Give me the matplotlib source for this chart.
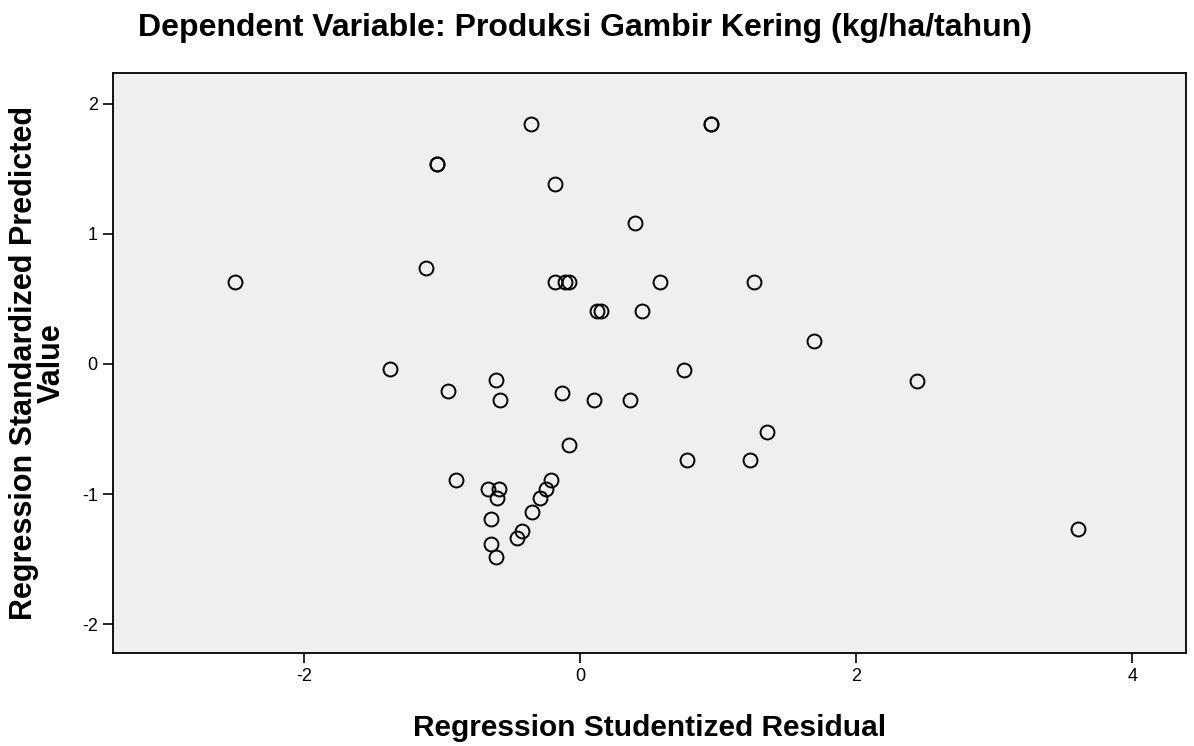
import matplotlib
matplotlib.use("Agg")
import matplotlib.pyplot as plt

plt.rcParams["font.family"] = ["Liberation Sans", "DejaVu Sans"]
plt.rcParams["axes.unicode_minus"] = False

TITLE = "Dependent Variable: Produksi Gambir Kering (kg/ha/tahun)"
X_LABEL = "Regression Studentized Residual"
Y_LABEL = "Regression Standardized Predicted\nValue"

# studentized residual vs standardized predicted value
residual = [
    -2.50, -1.04, -1.04, -1.12, -0.36, 0.95, 0.95, -0.18, 0.40,
    -0.18, -0.11, -0.08, 0.58, 1.26, 0.12, 0.15, 0.45, 1.69,
    -1.38, -0.96, -0.90, -0.61, -0.58, -0.13, 0.10, 0.36, 0.75,
    1.35, 0.77, 1.23, -0.08, -0.21, -0.25, -0.29, -0.35, -0.42,
    -0.46, -0.67, -0.59, -0.60, -0.65, -0.65, -0.61, 2.44, 3.61,
]
predicted = [
    0.63, 1.54, 1.54, 0.74, 1.84, 1.84, 1.84, 1.38, 1.08,
    0.63, 0.63, 0.63, 0.63, 0.63, 0.41, 0.41, 0.41, 0.18,
    -0.04, -0.21, -0.89, -0.12, -0.28, -0.22, -0.28, -0.28, -0.05,
    -0.52, -0.74, -0.74, -0.62, -0.89, -0.96, -1.03, -1.14, -1.28,
    -1.34, -0.96, -0.96, -1.03, -1.19, -1.38, -1.48, -0.13, -1.27,
]
x_ticks = [-2, 0, 2, 4]
y_ticks = [-2, -1, 0, 1, 2]

fig = plt.figure(figsize=(11.94, 7.46), dpi=100)
ax = fig.add_axes([0.0946, 0.1247, 0.8987, 0.7774])
ax.set_facecolor("#efefef")

ax.plot(
    residual, predicted,
    linestyle="none", marker="o", markersize=10,
    markerfacecolor="none", markeredgecolor="black", markeredgewidth=1.4,
)

ax.set_xlim(-3.386, 4.389)
ax.set_ylim(-2.22, 2.235)
ax.set_xticks(x_ticks)
ax.set_yticks(y_ticks)
ax.tick_params(direction="out", length=7, width=1.2, labelsize=13, pad=4)
for spine in ax.spines.values():
    spine.set_linewidth(1.3)

ax.set_xlabel(X_LABEL, fontsize=21.5, fontweight="bold")
ax.xaxis.set_label_coords(0.5, -0.106)
ax.set_ylabel(Y_LABEL, fontsize=22, fontweight="bold", linespacing=0.9)
ax.yaxis.set_label_coords(-0.043, 0.5)
fig.text(0.49, 0.962, TITLE, ha="center", va="center", fontsize=23, fontweight="bold")

fig.savefig("out.png", dpi=100)
